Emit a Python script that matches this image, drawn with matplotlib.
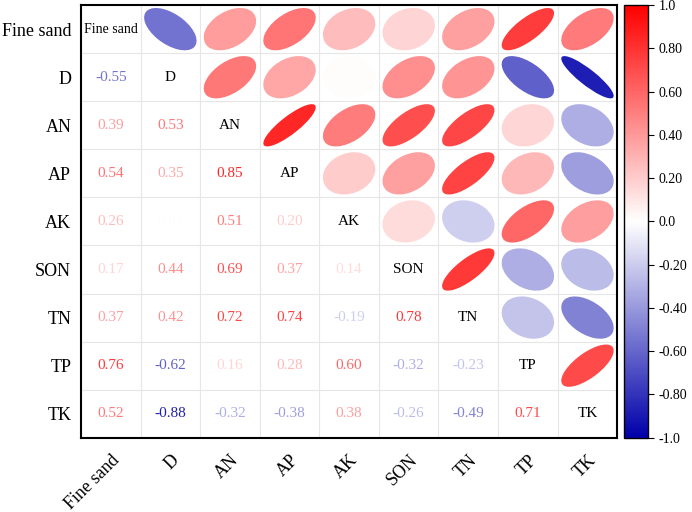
import matplotlib
matplotlib.use("Agg")
import matplotlib.pyplot as plt
from matplotlib.patches import Ellipse
from matplotlib.colors import LinearSegmentedColormap, Normalize
import matplotlib.cm as cm
import numpy as np

# variables and lower-triangle correlations (row by row)
labels = ["Fine sand", "D", "AN", "AP", "AK", "SON", "TN", "TP", "TK"]
row_D = [-0.55]
row_AN = [0.39, 0.53]
row_AP = [0.54, 0.35, 0.85]
row_AK = [0.26, 0.01, 0.51, 0.20]
row_SON = [0.17, 0.44, 0.69, 0.37, 0.14]
row_TN = [0.37, 0.42, 0.72, 0.74, -0.19, 0.78]
row_TP = [0.76, -0.62, 0.16, 0.28, 0.60, -0.32, -0.23]
row_TK = [0.52, -0.88, -0.32, -0.38, 0.38, -0.26, -0.49, 0.71]
cbar_ticks = [1.0, 0.8, 0.6, 0.4, 0.2, 0.0, -0.2, -0.4, -0.6, -0.8, -1.0]
cbar_labels = ["1.0", "0.80", "0.60", "0.40", "0.20", "0.0",
               "-0.20", "-0.40", "-0.60", "-0.80", "-1.0"]

plt.rcParams["font.family"] = ["Liberation Serif", "DejaVu Serif"]

n = len(labels)
corr = np.eye(n)
for i, row in enumerate([row_D, row_AN, row_AP, row_AK, row_SON, row_TN, row_TP, row_TK], start=1):
    for j, v in enumerate(row):
        corr[i, j] = v
        corr[j, i] = v

cmap = LinearSegmentedColormap.from_list("bwr2", ["#0000aa", "#ffffff", "#ff0000"])
norm = Normalize(-1, 1)

fig = plt.figure(figsize=(6.92, 5.12), dpi=100)
ax = fig.add_axes([0.117, 0.145, 0.775, 0.845])

for i in range(n):
    for j in range(n):
        r = corr[i, j]
        col = cmap(norm(r))
        if i == j:
            ax.text(j, i, labels[i], ha="center", va="center",
                    fontsize=10 if len(labels[i]) > 4 else 11, color="black")
        elif i > j:
            ax.text(j, i, "%.2f" % r, ha="center", va="center", fontsize=11, color=col)
        else:
            # ellipse stretched along the diagonal, direction by sign
            s = 0.88
            w = s * np.sqrt(1 + abs(r))
            h = s * np.sqrt(1 - abs(r))
            ang = -45 if r > 0 else 45
            ax.add_patch(Ellipse((j, i), w, h, angle=ang,
                                 facecolor=col, edgecolor="none"))

ax.set_xlim(-0.5, n - 0.5)
ax.set_ylim(n - 0.5, -0.5)
for k in range(1, n):
    ax.axhline(k - 0.5, color="#e6e6e6", lw=0.8, zorder=0)
    ax.axvline(k - 0.5, color="#e6e6e6", lw=0.8, zorder=0)
ax.set_xticks(range(n))
ax.set_yticks(range(n))
ax.set_xticklabels(labels, rotation=45, ha="right", rotation_mode="anchor", fontsize=13)
ax.set_yticklabels(labels, fontsize=13)
ax.tick_params(axis="y", length=0, pad=7)
ax.tick_params(axis="x", length=0, pad=10)
for sp in ax.spines.values():
    sp.set_linewidth(1.5)

cax = fig.add_axes([0.902, 0.145, 0.035, 0.845])
sm = cm.ScalarMappable(norm=norm, cmap=cmap)
cb = fig.colorbar(sm, cax=cax)
cb.set_ticks(cbar_ticks)
cb.set_ticklabels(cbar_labels)
cb.ax.tick_params(labelsize=10, length=4)
cb.outline.set_linewidth(1.0)

fig.savefig("out.png", dpi=100)
